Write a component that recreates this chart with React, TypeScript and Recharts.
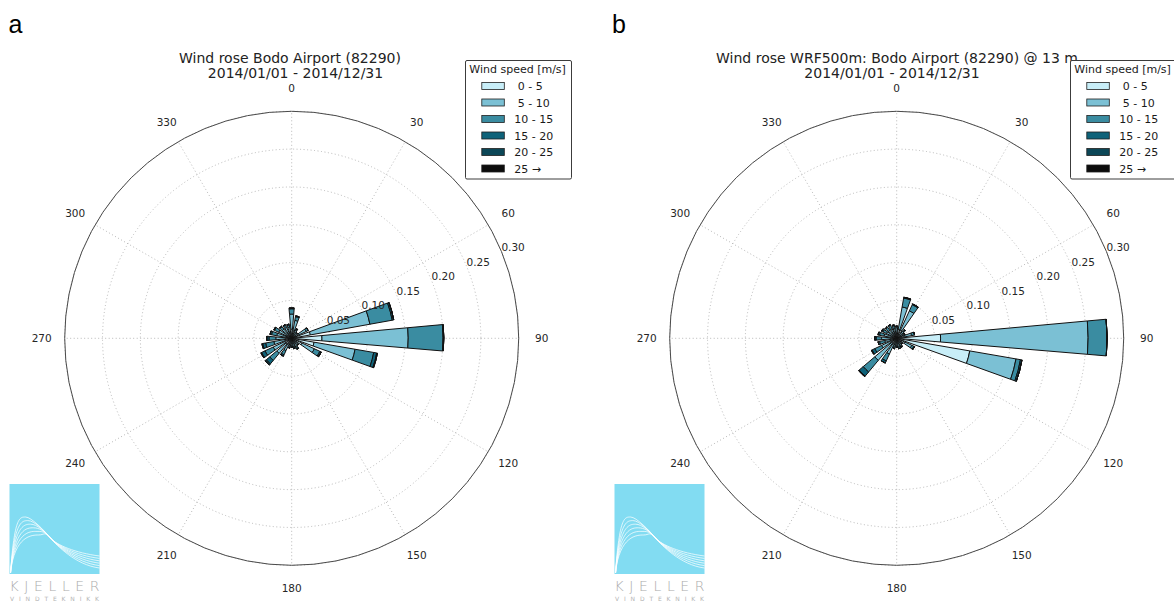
import React from 'react';
import {
  RadialBarChart,
  RadialBar,
  RadarChart,
  PolarAngleAxis,
  PolarRadiusAxis,
  PolarGrid,
} from 'recharts';

// Direction sectors (degrees from north, clockwise), 15 degree bins
const DIRECTIONS = [0, 15, 30, 45, 60, 75, 90, 105, 120, 135, 150, 165, 180, 195, 210, 225, 240, 255, 270, 285, 300, 315, 330, 345];

// Wind speed classes [m/s]
const SPEED_BINS = [' 0 - 5', ' 5 - 10', '10 - 15', '15 - 20', '20 - 25', '25 \u2192'];
const SPEED_KEYS = ['s0', 's1', 's2', 's3', 's4', 's5'];
const SPEED_COLORS = ['#c8eef8', '#7bc0d4', '#3a8ca1', '#0e6279', '#0c4757', '#0c0c0c'];

const COMPASS_TICKS = [0, 30, 60, 90, 120, 150, 180, 210, 240, 270, 300, 330];
const FREQ_TICKS = [0.05, 0.1, 0.15, 0.2, 0.25, 0.3];

// Observed relative frequencies, Bodo Airport (82290), 2014
const obs0to5 = [0.012, 0.010, 0.006, 0.005, 0.010, 0.025, 0.040, 0.030, 0.015, 0.006, 0.007, 0.006, 0.006, 0.006, 0.008, 0.010, 0.010, 0.009, 0.008, 0.008, 0.008, 0.007, 0.007, 0.007];
const obs5to10 = [0.020, 0.014, 0.006, 0.004, 0.011, 0.080, 0.114, 0.055, 0.018, 0.005, 0.006, 0.005, 0.004, 0.005, 0.010, 0.016, 0.017, 0.015, 0.013, 0.012, 0.011, 0.009, 0.009, 0.008];
const obs10to15 = [0.007, 0.005, 0.002, 0.001, 0.003, 0.030, 0.046, 0.025, 0.008, 0.001, 0.002, 0.002, 0.002, 0.002, 0.006, 0.012, 0.012, 0.011, 0.009, 0.007, 0.006, 0.004, 0.003, 0.003];
const obs15to20 = [0.001, 0.001, 0.000, 0.000, 0.000, 0.002, 0.001, 0.004, 0.002, 0.000, 0.001, 0.001, 0.000, 0.000, 0.002, 0.006, 0.005, 0.004, 0.003, 0.002, 0.001, 0.001, 0.001, 0.001];
const obs20to25 = [0, 0, 0, 0, 0, 0, 0, 0.001, 0, 0, 0, 0, 0, 0, 0, 0.002, 0.001, 0.001, 0, 0, 0, 0, 0, 0];
const obs25up = [0, 0, 0, 0, 0, 0, 0, 0, 0, 0, 0, 0, 0, 0, 0, 0, 0, 0, 0, 0, 0, 0, 0, 0];

// WRF 500 m model relative frequencies at 13 m, same site and period
const wrf0to5 = [0.007, 0.012, 0.012, 0.006, 0.005, 0.010, 0.058, 0.098, 0.012, 0.005, 0.006, 0.006, 0.005, 0.006, 0.008, 0.008, 0.008, 0.006, 0.008, 0.007, 0.006, 0.006, 0.006, 0.006];
const wrf5to10 = [0.007, 0.030, 0.028, 0.007, 0.005, 0.010, 0.195, 0.062, 0.010, 0.004, 0.005, 0.006, 0.005, 0.006, 0.015, 0.030, 0.014, 0.010, 0.012, 0.010, 0.009, 0.008, 0.008, 0.007];
const wrf10to15 = [0.002, 0.012, 0.009, 0.002, 0.002, 0.004, 0.025, 0.006, 0.003, 0.001, 0.002, 0.002, 0.002, 0.002, 0.010, 0.020, 0.010, 0.007, 0.007, 0.006, 0.005, 0.005, 0.005, 0.004];
const wrf15to20 = [0, 0.001, 0.001, 0, 0, 0, 0, 0.002, 0.001, 0, 0, 0, 0, 0, 0.003, 0.007, 0.004, 0.002, 0.002, 0.002, 0.002, 0.001, 0.001, 0.001];
const wrf20to25 = [0, 0, 0, 0, 0, 0, 0, 0, 0, 0, 0, 0, 0, 0, 0, 0.001, 0.001, 0, 0, 0, 0, 0, 0, 0];
const wrf25up = [0, 0, 0, 0, 0, 0, 0, 0, 0, 0, 0, 0, 0, 0, 0, 0, 0, 0, 0, 0, 0, 0, 0, 0];

const MPL_FONT = '"DejaVu Sans", Verdana, sans-serif';

// Panel geometry
const PANEL_W = 605;
const PANEL_H = 604;
const CX = 291.7;
const CY = 338.3;
const OUTER_R = 227;
const SECTOR = 15;
// Sector bands are offset by half a sector so each bar is centred on its direction
const BAR_START = 90 - SECTOR / 2;
const BAR_END = BAR_START - 360;

type Row = { [key: string]: number };

function buildRows(series: number[][]): Row[] {
  return DIRECTIONS.map((dir, i) => {
    const row: Row = { dir };
    SPEED_KEYS.forEach((key, j) => {
      row[key] = series[j][i];
    });
    return row;
  });
}

const obsRows = buildRows([obs0to5, obs5to10, obs10to15, obs15to20, obs20to25, obs25up]);
const wrfRows = buildRows([wrf0to5, wrf5to10, wrf10to15, wrf15to20, wrf20to25, wrf25up]);
const compassRows = COMPASS_TICKS.map((deg) => ({ deg }));

const AngleTick = (props: any) => {
  const { x, y, payload } = props;
  return (
    <text x={x} y={y} textAnchor="middle" dominantBaseline="central" fontSize={10.5} fontFamily={MPL_FONT} fill="#262626">
      {payload.value}
    </text>
  );
};

const FreqTick = (props: any) => {
  const { x, y, payload } = props;
  return (
    <text x={x} y={y} textAnchor="start" fontSize={10.5} fontFamily={MPL_FONT} fill="#262626">
      {Number(payload.value).toFixed(2)}
    </text>
  );
};

// Polar frame: compass directions, dotted grid and outer ring
function RoseFrame() {
  return (
    <RadarChart
      width={PANEL_W}
      height={PANEL_H}
      cx={CX}
      cy={CY}
      innerRadius={0}
      outerRadius={OUTER_R}
      startAngle={90}
      endAngle={-270}
      data={compassRows}
      margin={{ top: 0, right: 0, bottom: 0, left: 0 }}
    >
      <PolarGrid gridType="circle" stroke="#b0b0b0" strokeDasharray="1 2.5" strokeWidth={0.9} />
      <PolarAngleAxis
        dataKey="deg"
        type="category"
        axisLineType="circle"
        axisLine={{ stroke: '#4a4a4a', strokeWidth: 1 }}
        tickLine={false}
        tickSize={23}
        tick={AngleTick}
      />
      <PolarRadiusAxis
        type="number"
        domain={[0, 0.3]}
        allowDataOverflow
        ticks={FREQ_TICKS}
        axisLine={false}
        tickLine={false}
        tick={false}
      />
    </RadarChart>
  );
}

// Stacked speed-class sectors for every direction bin
function RoseBars({ rows }: { rows: Row[] }) {
  return (
    <RadialBarChart
      width={PANEL_W}
      height={PANEL_H}
      cx={CX}
      cy={CY}
      innerRadius={0}
      outerRadius={OUTER_R}
      startAngle={BAR_START}
      endAngle={BAR_END}
      layout="centric"
      data={rows}
      barCategoryGap="18%"
      margin={{ top: 0, right: 0, bottom: 0, left: 0 }}
    >
      <PolarAngleAxis dataKey="dir" type="category" tick={false} tickLine={false} axisLine={false} />
      {SPEED_KEYS.map((key, k) => (
        <RadialBar
          key={key}
          dataKey={key}
          stackId="rose"
          fill={SPEED_COLORS[k]}
          stroke="#111111"
          strokeWidth={1}
          isAnimationActive={false}
        />
      ))}
      <PolarRadiusAxis
        type="number"
        domain={[0, 0.3]}
        allowDataOverflow
        ticks={FREQ_TICKS}
        angle={22.5}
        axisLine={false}
        tickLine={false}
        tick={FreqTick}
      />
    </RadialBarChart>
  );
}

function SpeedLegend({ x }: { x: number }) {
  const rowY = (i: number) => 86 + i * 16.5;
  return (
    <g>
      <rect x={x + 0.5} y={60.5} width={106} height={118.5} rx={1.5} fill="#ffffff" stroke="#3c3c3c" strokeWidth={1} />
      <text x={x + 52.6} y={73} textAnchor="middle" fontSize={11} fontFamily={MPL_FONT} fill="#1a1a1a">
        Wind speed [m/s]
      </text>
      {SPEED_BINS.map((label, i) => (
        <g key={label}>
          <rect x={x + 16.8} y={rowY(i) - 3.5} width={22.5} height={7} fill={SPEED_COLORS[i]} stroke="#1e1e1e" strokeWidth={0.8} />
          <text x={x + 49.3} y={rowY(i) + 4} fontSize={11} fontFamily={MPL_FONT} fill="#1a1a1a" style={{ whiteSpace: 'pre' }}>
            {label}
          </text>
        </g>
      ))}
    </g>
  );
}

function KjellerLogo({ x }: { x: number }) {
  const curves = [0, 1, 2, 3, 4, 5].map((k) => {
    const px = x + 16 + k * 2.6;
    const py = 517 + k * 3.6;
    const tail = 568 - k * 2.4;
    return `M ${x + 1} 573 C ${x + 5} ${py}, ${px - 6} ${py}, ${px} ${py} S ${x + 35} 531, ${x + 41} 538 S ${x + 66} ${tail - 3}, ${x + 90} ${tail}`;
  });
  return (
    <g>
      <rect x={x} y={484} width={90} height={90} fill="#82dcf2" />
      {curves.map((d, i) => (
        <path key={i} d={d} fill="none" stroke="#ffffff" strokeWidth={0.8} strokeOpacity={0.9} />
      ))}
      <text x={x} y={590.5} fontSize={14} fontFamily={MPL_FONT} fontWeight={200} fill="#ababab" textLength={90} lengthAdjust="spacing">
        KJELLER
      </text>
      <text x={x + 0.5} y={600.8} fontSize={6} fontFamily={MPL_FONT} fill="#b4b4b4" textLength={89} lengthAdjust="spacing">
        VINDTEKNIKK
      </text>
    </g>
  );
}

function Panel({ left, rows }: { left: number; rows: Row[] }) {
  return (
    <>
      <div style={{ position: 'absolute', left, top: 0 }}>
        <RoseFrame />
      </div>
      <div style={{ position: 'absolute', left, top: 0 }}>
        <RoseBars rows={rows} />
      </div>
    </>
  );
}

export default function App() {
  return (
    <div style={{ position: 'absolute', left: 0, top: 0, width: 1174, height: 604, overflow: 'hidden', background: '#ffffff' }}>
      <Panel left={0} rows={obsRows} />
      <Panel left={PANEL_W} rows={wrfRows} />
      <svg width={1174} height={604} style={{ position: 'absolute', left: 0, top: 0, pointerEvents: 'none' }}>
        <text x={8.5} y={33} fontSize={25} fontFamily='"Liberation Sans", Arial, sans-serif' fill="#000">a</text>
        <text x={612} y={33} fontSize={25} fontFamily='"Liberation Sans", Arial, sans-serif' fill="#000">b</text>

        <text x={290} y={62.5} textAnchor="middle" fontSize={14} fontFamily={MPL_FONT} fill="#222">
          Wind rose Bodo Airport (82290)
        </text>
        <text x={295.5} y={77.5} textAnchor="middle" fontSize={14} fontFamily={MPL_FONT} fill="#222">
          2014/01/01 - 2014/12/31
        </text>
        <text x={897} y={62.5} textAnchor="middle" fontSize={14} fontFamily={MPL_FONT} fill="#222">
          Wind rose WRF500m: Bodo Airport (82290) @ 13 m
        </text>
        <text x={892} y={77.5} textAnchor="middle" fontSize={14} fontFamily={MPL_FONT} fill="#222">
          2014/01/01 - 2014/12/31
        </text>

        <SpeedLegend x={465} />
        <SpeedLegend x={1070} />

        <KjellerLogo x={9.5} />
        <KjellerLogo x={614.5} />
      </svg>
    </div>
  );
}
